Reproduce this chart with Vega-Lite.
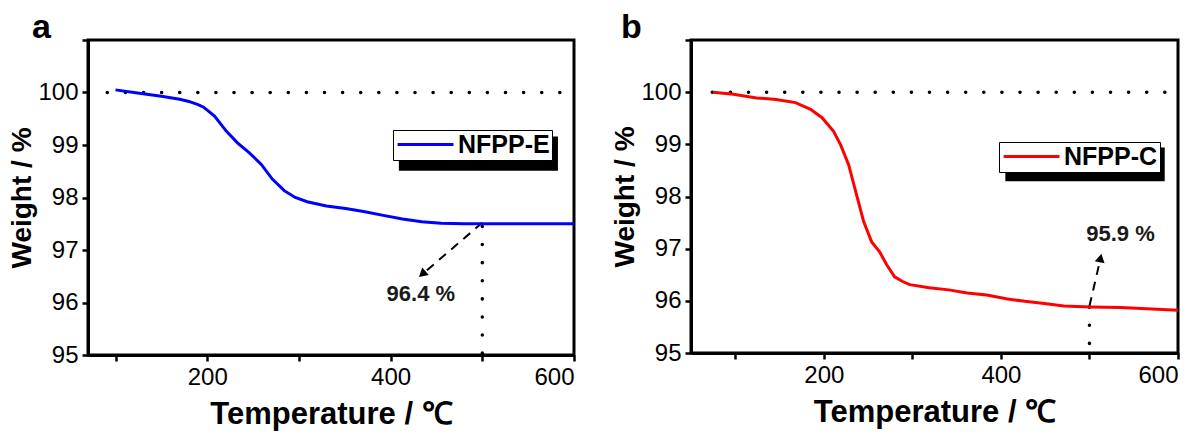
{
  "$schema": "https://vega.github.io/schema/vega-lite/v6.json",
  "padding": {"left": 7, "top": 9, "right": 5, "bottom": 5},
  "spacing": 28,
  "datasets": {
    "e": [
      {"T": 100, "W": 100.05, "sample": "NFPP-E"},
      {"T": 120, "W": 100.0, "sample": "NFPP-E"},
      {"T": 150, "W": 99.93, "sample": "NFPP-E"},
      {"T": 170, "W": 99.87, "sample": "NFPP-E"},
      {"T": 180, "W": 99.83, "sample": "NFPP-E"},
      {"T": 190, "W": 99.77, "sample": "NFPP-E"},
      {"T": 196, "W": 99.72, "sample": "NFPP-E"},
      {"T": 208, "W": 99.55, "sample": "NFPP-E"},
      {"T": 221, "W": 99.26, "sample": "NFPP-E"},
      {"T": 233, "W": 99.04, "sample": "NFPP-E"},
      {"T": 246, "W": 98.85, "sample": "NFPP-E"},
      {"T": 259, "W": 98.63, "sample": "NFPP-E"},
      {"T": 271, "W": 98.35, "sample": "NFPP-E"},
      {"T": 284, "W": 98.13, "sample": "NFPP-E"},
      {"T": 296, "W": 98.0, "sample": "NFPP-E"},
      {"T": 309, "W": 97.92, "sample": "NFPP-E"},
      {"T": 330, "W": 97.84, "sample": "NFPP-E"},
      {"T": 351, "W": 97.79, "sample": "NFPP-E"},
      {"T": 372, "W": 97.73, "sample": "NFPP-E"},
      {"T": 392, "W": 97.66, "sample": "NFPP-E"},
      {"T": 413, "W": 97.59, "sample": "NFPP-E"},
      {"T": 434, "W": 97.54, "sample": "NFPP-E"},
      {"T": 455, "W": 97.51, "sample": "NFPP-E"},
      {"T": 480, "W": 97.5, "sample": "NFPP-E"},
      {"T": 500, "W": 97.5, "sample": "NFPP-E"},
      {"T": 550, "W": 97.5, "sample": "NFPP-E"},
      {"T": 600, "W": 97.5, "sample": "NFPP-E"}
    ],
    "c": [
      {"T": 75, "W": 100.0, "sample": "NFPP-C"},
      {"T": 98, "W": 99.96, "sample": "NFPP-C"},
      {"T": 124, "W": 99.89, "sample": "NFPP-C"},
      {"T": 146, "W": 99.86, "sample": "NFPP-C"},
      {"T": 168, "W": 99.8, "sample": "NFPP-C"},
      {"T": 185, "W": 99.67, "sample": "NFPP-C"},
      {"T": 198, "W": 99.51, "sample": "NFPP-C"},
      {"T": 211, "W": 99.25, "sample": "NFPP-C"},
      {"T": 219, "W": 98.99, "sample": "NFPP-C"},
      {"T": 228, "W": 98.61, "sample": "NFPP-C"},
      {"T": 237, "W": 98.03, "sample": "NFPP-C"},
      {"T": 245, "W": 97.52, "sample": "NFPP-C"},
      {"T": 254, "W": 97.13, "sample": "NFPP-C"},
      {"T": 263, "W": 96.94, "sample": "NFPP-C"},
      {"T": 271, "W": 96.69, "sample": "NFPP-C"},
      {"T": 280, "W": 96.46, "sample": "NFPP-C"},
      {"T": 289, "W": 96.37, "sample": "NFPP-C"},
      {"T": 297, "W": 96.31, "sample": "NFPP-C"},
      {"T": 319, "W": 96.25, "sample": "NFPP-C"},
      {"T": 341, "W": 96.21, "sample": "NFPP-C"},
      {"T": 362, "W": 96.15, "sample": "NFPP-C"},
      {"T": 384, "W": 96.11, "sample": "NFPP-C"},
      {"T": 406, "W": 96.04, "sample": "NFPP-C"},
      {"T": 427, "W": 95.99, "sample": "NFPP-C"},
      {"T": 449, "W": 95.95, "sample": "NFPP-C"},
      {"T": 471, "W": 95.9, "sample": "NFPP-C"},
      {"T": 501, "W": 95.88, "sample": "NFPP-C"},
      {"T": 535, "W": 95.87, "sample": "NFPP-C"},
      {"T": 600, "W": 95.82, "sample": "NFPP-C"}
    ]
  },
  "hconcat": [
    {
      "width": 486,
      "height": 315,
      "title": {"text": "a", "anchor": "start", "frame": "bounds", "fontSize": 34, "fontWeight": "bold", "font": "Liberation Sans", "dx": 23, "offset": -6, "color": "black"},
      "layer": [
        {
          "data": {"values": [{"x1": 409, "x2": 582.5, "y1": 99.16, "y2": 98.51}]},
          "mark": {"type": "rect", "color": "black"},
          "encoding": {
            "x": {"field": "x1", "type": "quantitative", "scale": {"domain": [70, 600], "nice": false, "zero": false}},
            "x2": {"field": "x2"},
            "y": {"field": "y1", "type": "quantitative", "scale": {"domain": [95, 101], "nice": false, "zero": false}},
            "y2": {"field": "y2"}
          }
        },
        {
          "data": {"values": [{"x1": 91, "x2": 600, "y": 100}]},
          "mark": {"type": "rule", "strokeDash": [0.1, 18], "strokeWidth": 3.5, "strokeCap": "round", "color": "black"},
          "encoding": {"x": {"field": "x1", "type": "quantitative"}, "x2": {"field": "x2"}, "y": {"field": "y", "type": "quantitative"}}
        },
        {
          "data": {"values": [{"x": 500, "y1": 97.45, "y2": 95}]},
          "mark": {"type": "rule", "strokeDash": [0.1, 18], "strokeWidth": 3.5, "strokeCap": "round", "color": "black"},
          "encoding": {"x": {"field": "x", "type": "quantitative"}, "y": {"field": "y1", "type": "quantitative"}, "y2": {"field": "y2"}}
        },
        {
          "data": {"values": [{"x1": 500, "y1": 97.52, "x2": 436, "y2": 96.56}]},
          "mark": {"type": "rule", "strokeDash": [9, 7], "strokeWidth": 2, "color": "black"},
          "encoding": {"x": {"field": "x1", "type": "quantitative"}, "y": {"field": "y1", "type": "quantitative"}, "x2": {"field": "x2"}, "y2": {"field": "y2"}}
        },
        {
          "data": {"values": [{"x": 434.5, "y": 96.54}]},
          "mark": {"type": "point", "shape": "triangle-up", "filled": true, "color": "black", "size": 100, "angle": 229, "opacity": 1},
          "encoding": {"x": {"field": "x", "type": "quantitative"}, "y": {"field": "y", "type": "quantitative"}}
        },
        {
          "data": {"values": [{"x": 433, "y": 96.17, "label": "96.4 %"}]},
          "mark": {"type": "text", "font": "Liberation Sans", "fontSize": 22, "fontWeight": "bold", "color": "#1a1a1a"},
          "encoding": {"x": {"field": "x", "type": "quantitative"}, "y": {"field": "y", "type": "quantitative"}, "text": {"field": "label"}}
        },
        {
          "data": {"name": "e"},
          "mark": {"type": "line", "strokeWidth": 3},
          "encoding": {
            "x": {"field": "T", "type": "quantitative", "title": "Temperature / ℃",
              "axis": {"values": [100, 200, 300, 400, 500, 600], "labelExpr": "datum.value % 200 == 0 ? datum.label : ''"}},
            "y": {"field": "W", "type": "quantitative", "title": "Weight / %",
              "axis": {"values": [95, 95.5, 96, 96.5, 97, 97.5, 98, 98.5, 99, 99.5, 100, 100.5, 101], "labelExpr": "(datum.value % 1 == 0 && datum.value < 101) ? datum.label : ''"}},
            "color": {"field": "sample", "type": "nominal", "scale": {"domain": ["NFPP-E"], "range": ["#0000ff"]},
              "legend": {"orient": "none", "legendX": 305, "legendY": 90, "title": null, "symbolType": "M-1.4,0H6.5", "symbolSize": 200, "symbolStrokeWidth": 3, "strokeColor": "black", "fillColor": "white", "padding": 2, "labelFont": "Liberation Sans", "labelFontSize": 25, "labelFontWeight": "bold", "labelColor": "black", "labelOffset": 38}}
          }
        }
      ]
    },
    {
      "width": 487,
      "height": 313,
      "title": {"text": "b", "anchor": "start", "frame": "bounds", "fontSize": 34, "fontWeight": "bold", "font": "Liberation Sans", "dx": 9, "offset": -6, "color": "black"},
      "layer": [
        {
          "data": {"values": [{"x1": 405, "x2": 585, "y1": 98.94, "y2": 98.29}]},
          "mark": {"type": "rect", "color": "black"},
          "encoding": {
            "x": {"field": "x1", "type": "quantitative", "scale": {"domain": [50, 600], "nice": false, "zero": false}},
            "x2": {"field": "x2"},
            "y": {"field": "y1", "type": "quantitative", "scale": {"domain": [95, 101], "nice": false, "zero": false}},
            "y2": {"field": "y2"}
          }
        },
        {
          "data": {"values": [{"x1": 74, "x2": 600, "y": 100}]},
          "mark": {"type": "rule", "strokeDash": [0.1, 18], "strokeWidth": 3.5, "strokeCap": "round", "color": "black"},
          "encoding": {"x": {"field": "x1", "type": "quantitative"}, "x2": {"field": "x2"}, "y": {"field": "y", "type": "quantitative"}}
        },
        {
          "data": {"values": [{"x": 500, "y1": 95.88, "y2": 95}]},
          "mark": {"type": "rule", "strokeDash": [0.1, 18], "strokeWidth": 3.5, "strokeCap": "round", "color": "black"},
          "encoding": {"x": {"field": "x", "type": "quantitative"}, "y": {"field": "y1", "type": "quantitative"}, "y2": {"field": "y2"}}
        },
        {
          "data": {"values": [{"x1": 500, "y1": 95.9, "x2": 512, "y2": 96.78}]},
          "mark": {"type": "rule", "strokeDash": [9, 7], "strokeWidth": 2, "color": "black"},
          "encoding": {"x": {"field": "x1", "type": "quantitative"}, "y": {"field": "y1", "type": "quantitative"}, "x2": {"field": "x2"}, "y2": {"field": "y2"}}
        },
        {
          "data": {"values": [{"x": 512.5, "y": 96.82}]},
          "mark": {"type": "point", "shape": "triangle-up", "filled": true, "color": "black", "size": 100, "angle": 12, "opacity": 1},
          "encoding": {"x": {"field": "x", "type": "quantitative"}, "y": {"field": "y", "type": "quantitative"}}
        },
        {
          "data": {"values": [{"x": 535, "y": 97.28, "label": "95.9 %"}]},
          "mark": {"type": "text", "font": "Liberation Sans", "fontSize": 22, "fontWeight": "bold", "color": "#1a1a1a"},
          "encoding": {"x": {"field": "x", "type": "quantitative"}, "y": {"field": "y", "type": "quantitative"}, "text": {"field": "label"}}
        },
        {
          "data": {"name": "c"},
          "mark": {"type": "line", "strokeWidth": 3},
          "encoding": {
            "x": {"field": "T", "type": "quantitative", "title": "Temperature / ℃",
              "axis": {"values": [100, 200, 300, 400, 500, 600], "labelExpr": "datum.value % 200 == 0 ? datum.label : ''"}},
            "y": {"field": "W", "type": "quantitative", "title": "Weight / %",
              "axis": {"values": [95, 95.5, 96, 96.5, 97, 97.5, 98, 98.5, 99, 99.5, 100, 100.5, 101], "labelExpr": "(datum.value % 1 == 0 && datum.value < 101) ? datum.label : ''"}},
            "color": {"field": "sample", "type": "nominal", "scale": {"domain": ["NFPP-C"], "range": ["#ff0000"]},
              "legend": {"orient": "none", "legendX": 308, "legendY": 102, "title": null, "symbolType": "M-1.4,0H6.5", "symbolSize": 200, "symbolStrokeWidth": 3, "strokeColor": "black", "fillColor": "white", "padding": 2, "labelFont": "Liberation Sans", "labelFontSize": 25, "labelFontWeight": "bold", "labelColor": "black", "labelOffset": 38}}
          }
        }
      ]
    }
  ],
  "resolve": {"scale": {"color": "independent", "x": "independent", "y": "independent"}, "legend": {"color": "independent"}},
  "config": {
    "view": {"stroke": "black", "strokeWidth": 3},
    "axis": {
      "grid": false,
      "domainColor": "black",
      "domainWidth": 3,
      "tickColor": "black",
      "tickWidth": 2.5,
      "tickSize": 6,
      "labelFont": "Liberation Sans",
      "labelFontSize": 24,
      "labelColor": "black",
      "titleFont": "Liberation Sans",
      "titleFontWeight": "bold",
      "titleColor": "black"
    },
    "axisX": {"labelPadding": 4, "titlePadding": 10, "titleFontSize": 31},
    "axisY": {"labelPadding": 4, "titlePadding": 1, "titleFontSize": 28}
  }
}
